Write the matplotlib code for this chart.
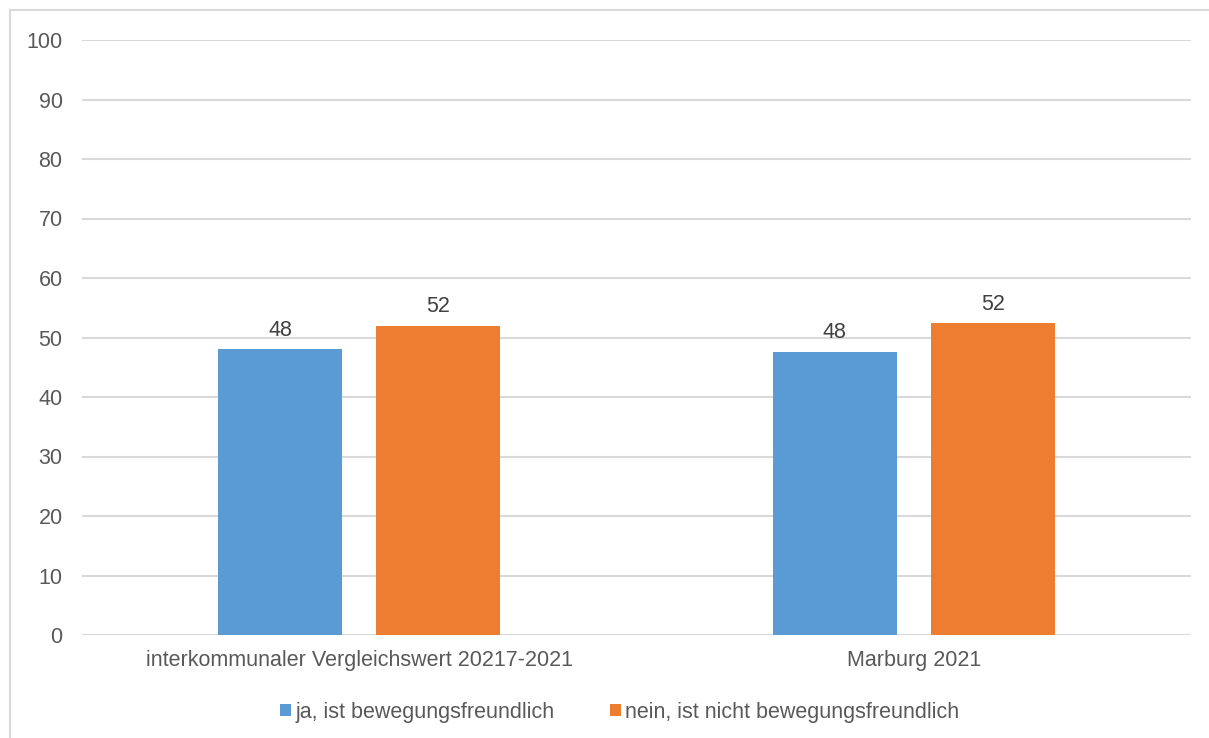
import numpy as np
import matplotlib.pyplot as plt
from matplotlib.patches import Rectangle

plt.rcParams['font.family'] = ['Liberation Sans', 'DejaVu Sans']

# data
categories = ['interkommunaler Vergleichswert 20217-2021', 'Marburg 2021']
series_names = ['ja, ist bewegungsfreundlich', 'nein, ist nicht bewegungsfreundlich']
ja_values = [48.0, 47.6]
nein_values = [52.0, 52.4]
y_ticks = list(range(0, 101, 10))

colors = ['#5B9BD5', '#ED7D31']
text_color = '#595959'
fs = 15.5

fig = plt.figure(figsize=(12.09, 7.38), dpi=100)
# outer chart-area border (Excel style)
fig.patches.append(Rectangle((10/1209, -0.1), 1.2, (738-10)/738 + 0.1,
                             transform=fig.transFigure, fill=False,
                             edgecolor='#D9D9D9', linewidth=1.5))

ax = fig.add_axes([82/1209, (738-635)/738, (1191-82)/1209, (635-40)/738])

x = np.arange(len(categories))
w = 0.224
off = 0.1425
for vals, col, name, sign in [(ja_values, colors[0], series_names[0], -1),
                              (nein_values, colors[1], series_names[1], 1)]:
    bars = ax.bar(x + sign*off, vals, width=w, color=col, label=name, zorder=3)
    for b, v in zip(bars, vals):
        ax.annotate(f'{v:.0f}', (b.get_x() + b.get_width()/2, v),
                    xytext=(0, 6), textcoords='offset points',
                    ha='center', va='bottom', fontsize=fs, color='#404040')

ax.set_xlim(-0.5, 1.5)
ax.set_ylim(0, 100)
ax.set_yticks(y_ticks)
ax.set_xticks(x)
ax.set_xticklabels(categories)
ax.tick_params(axis='both', length=0, labelsize=fs, labelcolor=text_color)
ax.tick_params(axis='y', pad=14)
ax.tick_params(axis='x', pad=11)
ax.grid(axis='y', color='#D9D9D9', linewidth=1.5, zorder=0)
for s in ax.spines.values():
    s.set_visible(False)

ax.legend(loc='center', bbox_to_anchor=(0.485, -0.13), ncol=2, frameon=False,
          fontsize=fs, labelcolor=text_color, handlelength=0.5, handleheight=0.5,
          handletextpad=0.2, columnspacing=2.6)

fig.savefig('out.png', dpi=100)
